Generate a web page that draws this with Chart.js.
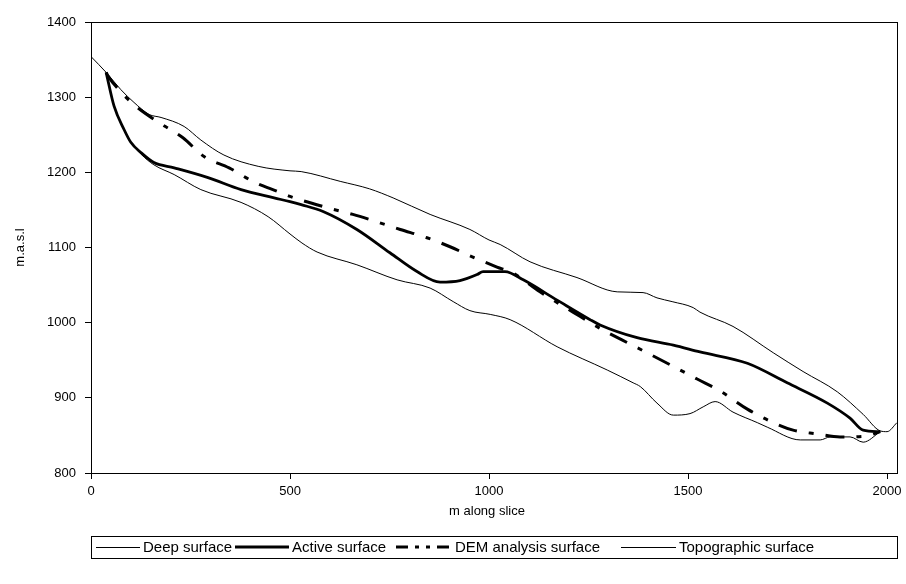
<!DOCTYPE html>
<html>
<head>
<meta charset="utf-8">
<script src="https://cdn.jsdelivr.net/npm/chart.js@4/dist/chart.umd.min.js"></script>
<style>
  html, body { margin: 0; padding: 0; background: #fff; }
  #wrap { width: 906px; height: 584px; }
</style>
</head>
<body>
<div id="wrap"><canvas id="slice" width="906" height="584"></canvas></div>
<script>
// --- data (m along slice / m.a.s.l) ---
const xTickValues = [0, 500, 1000, 1500, 2000];
const seriesNames = ['Deep surface', 'Active surface', 'DEM analysis surface', 'Topographic surface'];

const deepDist = [38, 58, 83, 100, 126, 158, 209, 276, 377, 445, 500, 530, 568, 668, 769, 852, 910, 952, 1003, 1053, 1171, 1297, 1362, 1380, 1422, 1463, 1505, 1538, 1568, 1613, 1674, 1699, 1782, 1832, 1857, 1907, 1940, 1983];
const deepElev = [1333, 1288, 1257, 1240, 1224, 1210, 1197, 1177, 1160, 1141, 1118, 1106, 1094, 1077, 1057, 1046, 1028, 1016, 1011, 1004, 968, 937, 920, 915, 893, 877, 879, 888, 895, 881, 867, 861, 844, 844, 848, 848, 841, 855];

const activeDist = [38, 58, 83, 100, 126, 158, 209, 294, 377, 460, 500, 528, 583, 668, 751, 819, 877, 927, 970, 985, 1040, 1086, 1171, 1254, 1279, 1372, 1463, 1530, 1649, 1749, 1850, 1907, 1940, 1983];
const activeElev = [1333, 1288, 1257, 1240, 1226, 1213, 1206, 1193, 1177, 1166, 1161, 1157, 1148, 1124, 1093, 1068, 1054, 1056, 1064, 1068, 1068, 1057, 1030, 1004, 997, 980, 970, 961, 946, 920, 893, 873, 857, 855];

const demDist = [38, 43, 75, 108, 168, 231, 284, 347, 410, 472, 500, 593, 658, 719, 777, 844, 902, 965, 1020, 1060, 1128, 1211, 1287, 1334, 1397, 1455, 1523, 1581, 1649, 1706, 1764, 1824, 1882, 1945, 1983];
const demElev = [1333, 1328, 1307, 1290, 1267, 1246, 1221, 1206, 1187, 1174, 1168, 1153, 1144, 1134, 1124, 1113, 1101, 1086, 1074, 1066, 1041, 1014, 990, 977, 960, 944, 925, 909, 885, 869, 857, 852, 848, 849, 855];

const topoDist = [0, 38, 75, 108, 146, 176, 234, 276, 334, 420, 500, 528, 626, 700, 759, 852, 952, 1000, 1028, 1103, 1221, 1322, 1387, 1422, 1460, 1513, 1530, 1613, 1714, 1789, 1875, 1940, 1983, 2000, 2025];
const topoElev = [1354, 1333, 1310, 1293, 1277, 1273, 1261, 1243, 1223, 1208, 1202, 1201, 1188, 1178, 1166, 1144, 1124, 1110, 1104, 1081, 1060, 1041, 1040, 1033, 1028, 1020, 1014, 995, 960, 935, 908, 878, 856, 855, 867];

const toPoints = (xs, ys) => xs.map((x, i) => ({ x: x, y: ys[i] }));

const FONT = '"Liberation Sans", Arial, sans-serif';

// --- axis titles, plot frame and the boxed legend at the bottom ---
const decorPlugin = {
  id: 'decor',
  afterDraw(chart) {
    const ctx = chart.ctx;
    const a = chart.chartArea;
    ctx.save();
    ctx.strokeStyle = '#000';
    ctx.lineWidth = 1;
    ctx.setLineDash([]);
    ctx.strokeRect(Math.round(a.left) + 0.5, Math.round(a.top) + 0.5, Math.round(a.right - a.left), Math.round(a.bottom - a.top));

    ctx.fillStyle = '#000';
    ctx.font = '13px ' + FONT;
    ctx.textAlign = 'center';
    ctx.textBaseline = 'middle';
    ctx.fillText('m along slice', 487, 511);

    ctx.save();
    ctx.translate(20, (a.top + a.bottom) / 2);
    ctx.rotate(-Math.PI / 2);
    ctx.fillText('m.a.s.l', 0, 0);
    ctx.restore();

    // legend
    const ly = 547;
    ctx.strokeRect(91.5, 536.5, 806, 22);
    const items = [
      { x0: 96, x1: 140, tx: 143, w: 1, dash: [] },
      { x0: 235, x1: 289, tx: 292, w: 3, dash: [] },
      { x0: 396, x1: 452, tx: 455, w: 3, dash: [12, 7, 4, 7, 4, 7] },
      { x0: 621, x1: 676, tx: 679, w: 1, dash: [] }
    ];
    ctx.font = '15px ' + FONT;
    ctx.textAlign = 'left';
    items.forEach((it, i) => {
      ctx.beginPath();
      ctx.lineWidth = it.w;
      ctx.setLineDash(it.dash);
      ctx.moveTo(it.x0, ly + (it.w === 1 ? 0.5 : 0));
      ctx.lineTo(it.x1, ly + (it.w === 1 ? 0.5 : 0));
      ctx.stroke();
      ctx.setLineDash([]);
      ctx.fillText(seriesNames[i], it.tx, ly + 1);
    });
    ctx.restore();
  }
};

const lineSet = (label, pts, width, dash) => ({
  label: label,
  data: pts,
  borderColor: '#000',
  backgroundColor: '#000',
  borderWidth: width,
  borderDash: dash,
  pointRadius: 0,
  cubicInterpolationMode: 'monotone',
  fill: false
});

new Chart(document.getElementById('slice'), {
  type: 'line',
  data: {
    datasets: [
      lineSet(seriesNames[0], toPoints(deepDist, deepElev), 1, []),
      lineSet(seriesNames[1], toPoints(activeDist, activeElev), 2.8, []),
      lineSet(seriesNames[2], toPoints(demDist, demElev), 3, [19, 12, 5, 12]),
      lineSet(seriesNames[3], toPoints(topoDist, topoElev), 1, [])
    ]
  },
  options: {
    responsive: false,
    animation: false,
    devicePixelRatio: 1,
    layout: { padding: { top: 22, right: 9, left: 0, bottom: 0 } },
    plugins: { legend: { display: false }, tooltip: { enabled: false } },
    scales: {
      x: {
        type: 'linear',
        min: 0,
        max: 2025,
        afterBuildTicks: (scale) => { scale.ticks = xTickValues.map(v => ({ value: v })); },
        afterFit: (scale) => { scale.height = 111; scale.paddingLeft = 0; scale.paddingRight = 0; },
        grid: { display: true, drawOnChartArea: false, drawTicks: true, tickLength: 6, color: '#000' },
        border: { display: false },
        ticks: { color: '#000', font: { family: FONT, size: 13 }, padding: 5, maxRotation: 0, callback: (v) => String(v) }
      },
      y: {
        min: 800,
        max: 1400,
        afterFit: (scale) => { scale.width = 91; scale.paddingTop = 0; scale.paddingBottom = 0; },
        grid: { display: true, drawOnChartArea: false, drawTicks: true, tickLength: 6, color: '#000' },
        border: { display: false },
        ticks: { stepSize: 100, color: '#000', font: { family: FONT, size: 13 }, padding: 9, callback: (v) => String(v) }
      }
    }
  },
  plugins: [decorPlugin]
});
</script>
</body>
</html>
